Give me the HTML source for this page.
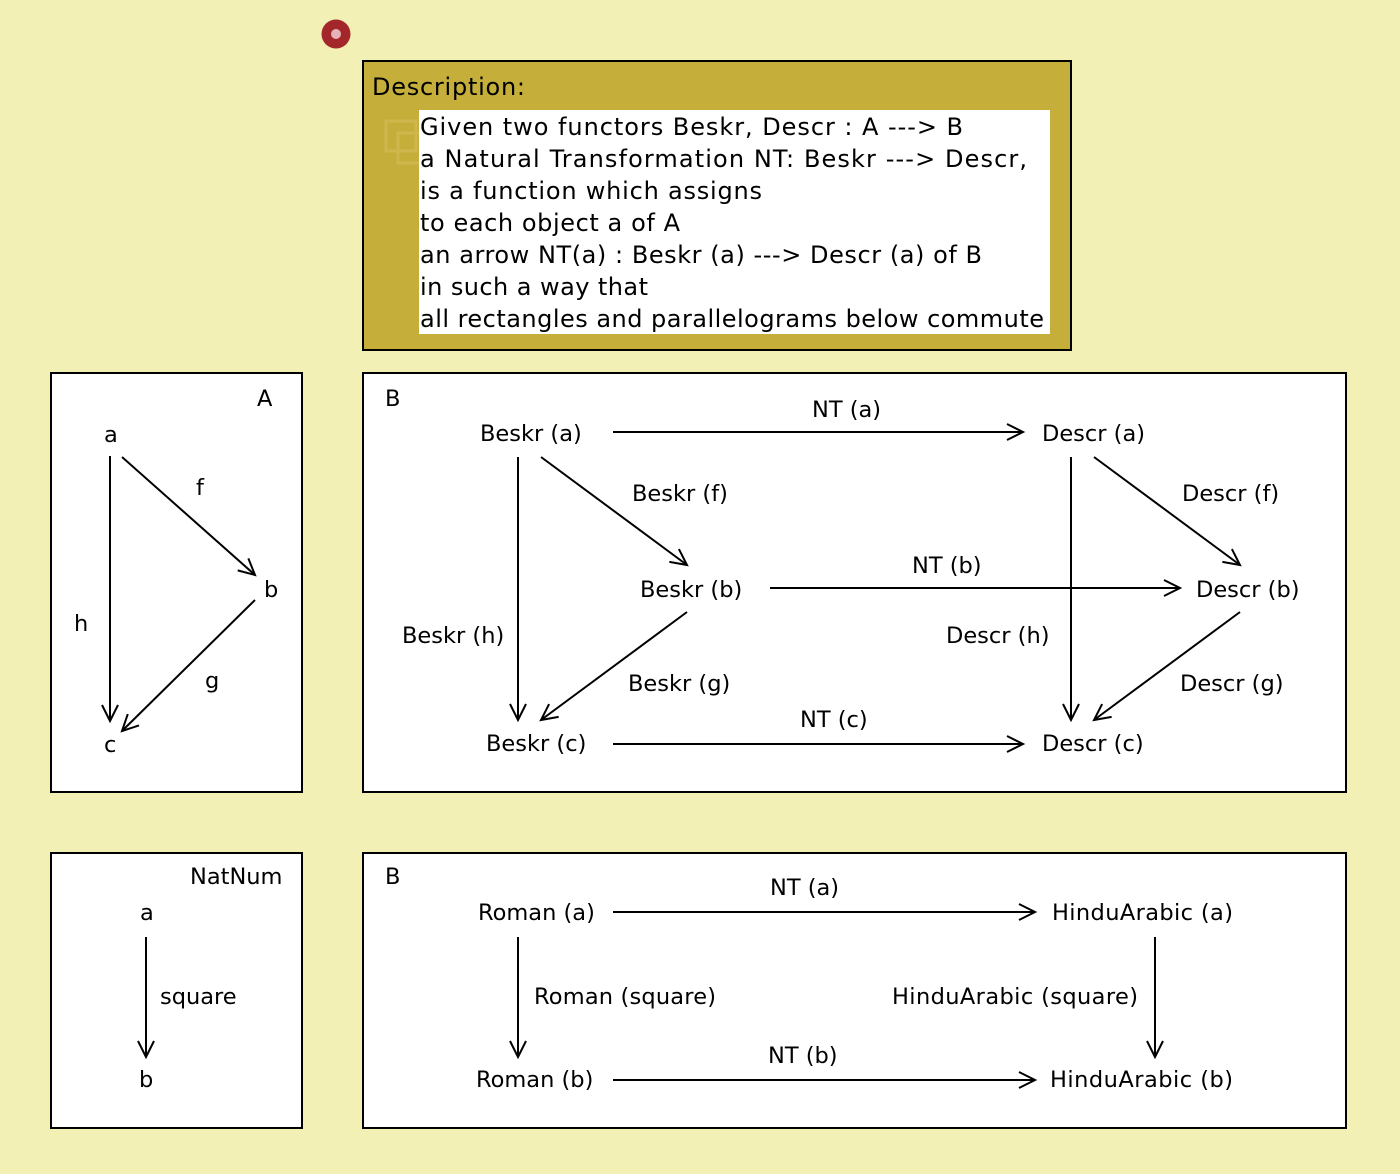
<!DOCTYPE html>
<html><head><meta charset="utf-8"><style>
html,body{margin:0;padding:0;background:#f2f0b4;}
svg{display:block;}
text{font-family:"DejaVu Sans","Liberation Sans",sans-serif;font-size:22.5px;fill:#000;}
</style></head><body>
<svg width="1400" height="1174" viewBox="0 0 1400 1174" xmlns="http://www.w3.org/2000/svg">
<defs>
<marker id="ah" markerWidth="20" markerHeight="20" refX="17" refY="9" orient="auto" markerUnits="userSpaceOnUse">
<path d="M1,1 L17,9 L1,17" fill="none" stroke="#000" stroke-width="2"/>
</marker>
</defs>
<rect x="0" y="0" width="1400" height="1174" fill="#f2f0b4"/>
<circle cx="336" cy="34" r="14.5" fill="#a3262a"/>
<circle cx="336" cy="34" r="5" fill="#e6b4b8"/>
<rect x="363" y="61" width="708" height="289" fill="#c6ae3a" stroke="#000" stroke-width="2"/>
<text x="372" y="95" style="font-size:24px" textLength="153">Description:</text>
<rect x="386" y="121" width="30" height="30" fill="none" stroke="#cfb64d" stroke-width="3"/>
<rect x="398" y="133" width="30" height="30" fill="none" stroke="#cfb64d" stroke-width="3"/>
<rect x="419" y="110" width="631" height="224" fill="#fff"/>
<text x="420" y="135" textLength="543" style="font-size:24px">Given two functors Beskr, Descr : A ---&gt; B</text>
<text x="420" y="167" textLength="607" style="font-size:24px">a Natural Transformation NT: Beskr ---&gt; Descr,</text>
<text x="420" y="199" textLength="342" style="font-size:24px">is a function which assigns</text>
<text x="420" y="231" textLength="260" style="font-size:24px">to each object a of A</text>
<text x="420" y="263" textLength="562" style="font-size:24px">an arrow NT(a) : Beskr (a) ---&gt; Descr (a) of B</text>
<text x="420" y="295" textLength="228" style="font-size:24px">in such a way that</text>
<text x="420" y="327" textLength="624" style="font-size:24px">all rectangles and parallelograms below commute</text>

<rect x="51" y="373" width="251" height="419" fill="#fff" stroke="#000" stroke-width="2"/>
<rect x="363" y="373" width="983" height="419" fill="#fff" stroke="#000" stroke-width="2"/>
<rect x="51" y="853" width="251" height="275" fill="#fff" stroke="#000" stroke-width="2"/>
<rect x="363" y="853" width="983" height="275" fill="#fff" stroke="#000" stroke-width="2"/>

<g stroke="#000" stroke-width="2" fill="none" marker-end="url(#ah)">
<line x1="110" y1="456" x2="110" y2="721"/>
<line x1="122" y1="457" x2="255" y2="575"/>
<line x1="255" y1="600" x2="122" y2="731"/>
<line x1="613" y1="432" x2="1023" y2="432"/>
<line x1="518" y1="457" x2="518" y2="720"/>
<line x1="541" y1="457" x2="687" y2="565"/>
<line x1="687" y1="612" x2="541" y2="720"/>
<line x1="770" y1="588" x2="1180" y2="588"/>
<line x1="1071" y1="457" x2="1071" y2="720"/>
<line x1="1094" y1="457" x2="1240" y2="565"/>
<line x1="1240" y1="612" x2="1094" y2="720"/>
<line x1="613" y1="744" x2="1023" y2="744"/>
<line x1="146" y1="937" x2="146" y2="1057"/>
<line x1="613" y1="912" x2="1035" y2="912"/>
<line x1="518" y1="937" x2="518" y2="1057"/>
<line x1="1155" y1="937" x2="1155" y2="1057"/>
<line x1="613" y1="1080" x2="1035" y2="1080"/>
</g>

<text x="257" y="406">A</text>
<text x="104" y="442">a</text>
<text x="196" y="495">f</text>
<text x="264" y="597">b</text>
<text x="74" y="631">h</text>
<text x="205" y="688">g</text>
<text x="104" y="752">c</text>

<text x="385" y="406">B</text>
<text x="480" y="441">Beskr (a)</text>
<text x="812" y="417">NT (a)</text>
<text x="1042" y="441">Descr (a)</text>
<text x="632" y="501">Beskr (f)</text>
<text x="1182" y="501">Descr (f)</text>
<text x="640" y="597">Beskr (b)</text>
<text x="912" y="573">NT (b)</text>
<text x="1196" y="597">Descr (b)</text>
<text x="402" y="643">Beskr (h)</text>
<text x="946" y="643">Descr (h)</text>
<text x="628" y="691">Beskr (g)</text>
<text x="1180" y="691">Descr (g)</text>
<text x="800" y="727">NT (c)</text>
<text x="486" y="751">Beskr (c)</text>
<text x="1042" y="751">Descr (c)</text>

<text x="190" y="884">NatNum</text>
<text x="140" y="920">a</text>
<text x="160" y="1004">square</text>
<text x="139" y="1087">b</text>

<text x="385" y="884">B</text>
<text x="478" y="920">Roman (a)</text>
<text x="770" y="895">NT (a)</text>
<text x="1052" y="920" textLength="181">HinduArabic (a)</text>
<text x="534" y="1004" textLength="182">Roman (square)</text>
<text x="892" y="1004" textLength="246">HinduArabic (square)</text>
<text x="476" y="1087">Roman (b)</text>
<text x="768" y="1063">NT (b)</text>
<text x="1050" y="1087" textLength="183">HinduArabic (b)</text>
</svg>
</body></html>
